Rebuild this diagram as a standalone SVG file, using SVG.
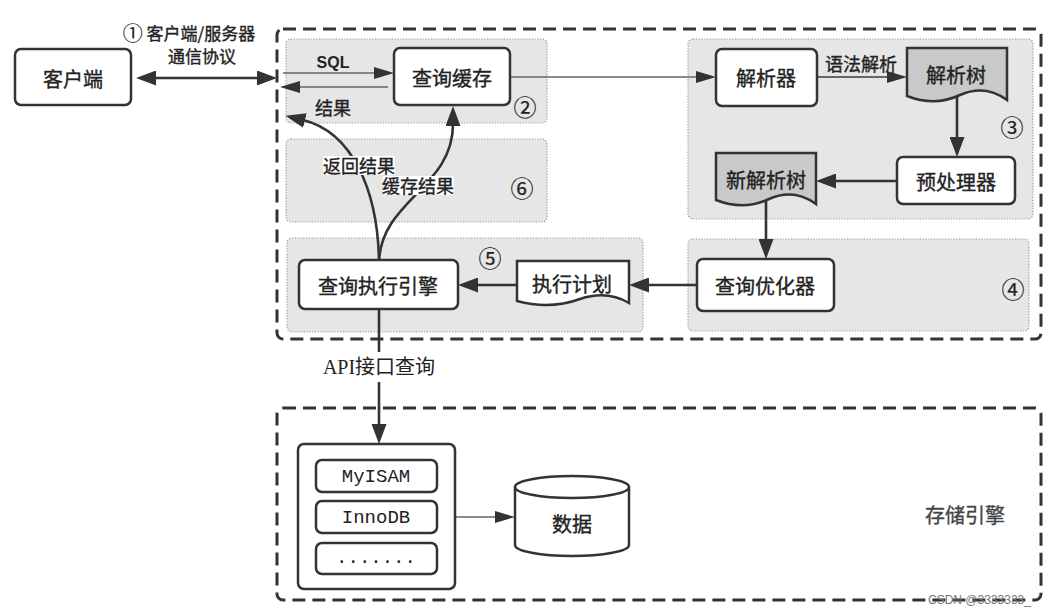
<svg xmlns="http://www.w3.org/2000/svg" width="1056" height="615" viewBox="0 0 1056 615">
<style>
.t{font-family:"Noto Sans CJK SC","Noto Sans",sans-serif;fill:#222;stroke:#222;stroke-width:0.35;text-anchor:middle;dominant-baseline:central}
.f20{font-size:20px}
.f18{font-size:18px}
.f17{font-size:17px}
.num{font-size:23px;stroke-width:0.2}
.box{fill:#fff;stroke:#333;stroke-width:2.5}
.doc{fill:#c9c9c9;stroke:#333;stroke-width:2.5;stroke-linejoin:miter}
.zone{fill:#e6e6e6;stroke:#999;stroke-width:1.2;stroke-dasharray:1.2 1.6}
.dash{fill:none;stroke:#333;stroke-width:3;stroke-dasharray:13 7}
.thin{fill:none;stroke:#666;stroke-width:1.6}
.thick{fill:none;stroke:#333;stroke-width:2.6}
.mono{font-family:"Liberation Mono","DejaVu Sans Mono",monospace;font-size:19px;fill:#222;text-anchor:middle;dominant-baseline:central}
.lbg{fill:#fff}
</style>
<defs>
<marker id="hb" viewBox="0 0 20 15" markerWidth="20" markerHeight="15" refX="2" refY="7.5" orient="auto-start-reverse" markerUnits="userSpaceOnUse"><path d="M0,0 L20,7.5 L0,15 z" fill="#333"/></marker>
<marker id="hs" viewBox="0 0 20 12" markerWidth="20" markerHeight="12" refX="2" refY="6" orient="auto" markerUnits="userSpaceOnUse"><path d="M0,0 L20,6 L0,12 z" fill="#333"/></marker>
</defs>
<rect width="1056" height="615" fill="#fff"/>

<g id="server">
<rect class="dash" x="277" y="29" width="764" height="310" rx="6"/>
</g>
<g id="storage">
<rect class="dash" x="277" y="408" width="764" height="192" rx="6"/>
<text class="t f20" x="965" y="514" style="fill:#444;stroke:#444">存储引擎</text>
</g>

<g id="zone2"><rect class="zone" x="286" y="39" width="261" height="84" rx="5"/><text class="t num" x="525" y="106">②</text></g>
<g id="zone6"><rect class="zone" x="286" y="139" width="261" height="83" rx="5"/><text class="t num" x="522" y="187">⑥</text></g>
<g id="zone3"><rect class="zone" x="688" y="39" width="345" height="180" rx="5"/><text class="t num" x="1012" y="126">③</text></g>
<g id="zone5"><rect class="zone" x="287" y="238" width="356" height="94" rx="5"/><text class="t num" x="490" y="257">⑤</text></g>
<g id="zone4"><rect class="zone" x="688" y="239" width="341" height="92" rx="5"/><text class="t num" x="1013" y="288">④</text></g>

<g id="connectors">
<path class="thick" d="M154,78 H259" marker-start="url(#hb)" marker-end="url(#hb)"/>
<path class="thin" d="M283,73 H376" marker-end="url(#hs)"/>
<path class="thin" d="M388,87 H298" marker-end="url(#hs)"/>
<path class="thin" d="M510,77 H698" marker-end="url(#hs)"/>
<path class="thin" d="M817,77 H889" style="stroke-width:2.2" marker-end="url(#hs)"/>
<path class="thick" d="M957,94 V139" marker-end="url(#hb)"/>
<path class="thick" d="M897,181 H834" marker-end="url(#hb)"/>
<path class="thick" d="M766,199 V241" marker-end="url(#hb)"/>
<path class="thick" d="M697,285 H647" marker-end="url(#hb)"/>
<path class="thick" d="M517,285 H476" marker-end="url(#hb)"/>
<path class="thick" d="M379,262 C378,190 352,132 303,120" marker-end="url(#hb)"/>
<path class="thick" d="M379,262 C381,200 453,188 453,124" marker-end="url(#hb)"/>
<path class="thick" d="M379,309 V352"/>
<path class="thick" d="M379,382 V426" marker-end="url(#hb)"/>
<path class="thin" d="M455,517 H497" marker-end="url(#hs)"/>
</g>

<g id="labels">
<text class="t f17" x="189" y="32"><tspan style="font-size:20px;stroke-width:0.2">①</tspan> 客户端/服务器</text>
<text class="t f17" x="202" y="55">通信协议</text>
<text x="333" y="62" style="font-family:'Liberation Sans',Arial,sans-serif;font-size:16px;font-weight:bold;fill:#222;text-anchor:middle;dominant-baseline:central">SQL</text>
<text class="t f18" x="333" y="107">结果</text>
<rect class="lbg" x="323" y="156" width="72" height="19"/>
<text class="t f18" x="359" y="165">返回结果</text>
<rect class="lbg" x="383" y="176" width="71" height="19"/>
<text class="t f18" x="418" y="185">缓存结果</text>
<text class="t f18" x="861" y="63">语法解析</text>
<text x="379" y="367" style="font-family:'Liberation Serif','Noto Sans CJK SC',serif;font-size:20px;fill:#222;text-anchor:middle;dominant-baseline:central">API接口查询</text>
</g>

<g id="client"><rect class="box" x="15" y="49" width="116" height="56" rx="6"/><text class="t f20" x="73" y="78">客户端</text></g>
<g id="cache"><rect class="box" x="394" y="48" width="116" height="57" rx="6"/><text class="t f20" x="452" y="77">查询缓存</text></g>
<g id="parser"><rect class="box" x="716" y="49" width="101" height="57" rx="6"/><text class="t f20" x="766" y="77">解析器</text></g>
<g id="parsetree"><path class="doc" d="M907,48 H1007 V100 Q985,84 960,95 Q935,107 907,96 Z"/><text class="t f20" x="956" y="74">解析树</text></g>
<g id="preprocessor"><rect class="box" x="897" y="157" width="118" height="47" rx="6"/><text class="t f20" x="956" y="181">预处理器</text></g>
<g id="newtree"><path class="doc" d="M716,153 H816 V204 Q794,188 769,199 Q744,211 716,200 Z"/><text class="t f20" x="766" y="179">新解析树</text></g>
<g id="optimizer"><rect class="box" x="697" y="259" width="137" height="52" rx="6"/><text class="t f20" x="765" y="285">查询优化器</text></g>
<g id="plan"><path class="doc" style="fill:#fff" d="M517,261 H629 V303 Q607,290 580,299 Q550,310 517,301 Z"/><text class="t f20" x="572" y="283">执行计划</text></g>
<g id="executor"><rect class="box" x="299" y="260" width="159" height="49" rx="6"/><text class="t f20" x="378" y="285">查询执行引擎</text></g>

<g id="engines">
<rect class="box" x="298" y="444" width="157" height="145" rx="6"/>
<rect class="box" x="316" y="460" width="121" height="32" rx="6"/><text class="mono" x="376" y="477">MyISAM</text>
<rect class="box" x="316" y="501" width="121" height="32" rx="6"/><text class="mono" x="376" y="518">InnoDB</text>
<rect class="box" x="316" y="543" width="121" height="31" rx="6"/><text class="mono" x="376" y="558">.......</text>
</g>
<g id="data">
<path class="box" d="M515,487 A57,11 0 0 1 629,487 V545 A57,11 0 0 1 515,545 Z"/>
<path class="box" style="fill:none" d="M515,487 A57,11 0 0 0 629,487"/>
<text class="t f20" x="572" y="523">数据</text>
</g>
<text x="928" y="604" style="font-family:'Liberation Sans',Arial,sans-serif;font-size:12px;fill:#777">CSDN @3333333_</text>
</svg>
